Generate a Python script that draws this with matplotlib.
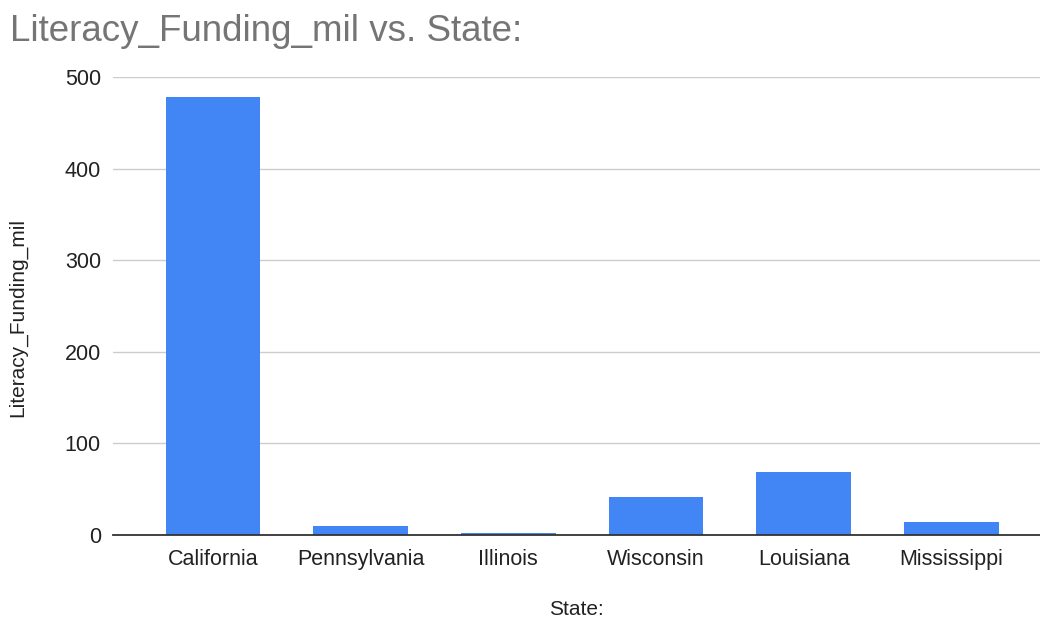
import matplotlib
matplotlib.use("Agg")
import matplotlib.pyplot as plt
import numpy as np

# data
states = ["California", "Pennsylvania", "Illinois", "Wisconsin", "Louisiana", "Mississippi"]
funding_mil = [478, 10, 2.5, 41, 69, 14.5]
y_ticks = [0, 100, 200, 300, 400, 500]

plt.rcParams['font.family'] = ['Liberation Sans', 'DejaVu Sans']

fig = plt.figure(figsize=(10.4, 6.22), dpi=100)
ax = fig.add_axes([0.109, 0.14, 0.891, 0.736])

x = np.arange(len(states))
ax.bar(x, funding_mil, width=0.64, color='#4285F4', zorder=3)

ax.set_xlim(-0.674, 5.6)
ax.set_ylim(0, 500)
ax.set_yticks(y_ticks)
ax.set_xticks(x)
ax.set_xticklabels(states)
ax.tick_params(axis='both', length=0, labelsize=15.5, colors='#222222')
ax.tick_params(axis='x', pad=10)
ax.tick_params(axis='y', pad=9)

ax.yaxis.grid(True, color='#cccccc', linewidth=1, zorder=0)
for side in ['top', 'right', 'left']:
    ax.spines[side].set_visible(False)
ax.spines['bottom'].set_color('#333333')
ax.spines['bottom'].set_linewidth(1.3)
ax.spines['bottom'].set_zorder(4)

ax.set_xlabel('State:', fontsize=15, color='#222222', labelpad=22)
ax.set_ylabel('Literacy_Funding_mil', fontsize=15, color='#222222')
ax.yaxis.set_label_coords(-0.093, 0.475)

fig.text(0.0096, 0.95, 'Literacy_Funding_mil vs. State:', fontsize=26.5, color='#757575',
         ha='left', va='center')

fig.savefig('out.png', dpi=100)
